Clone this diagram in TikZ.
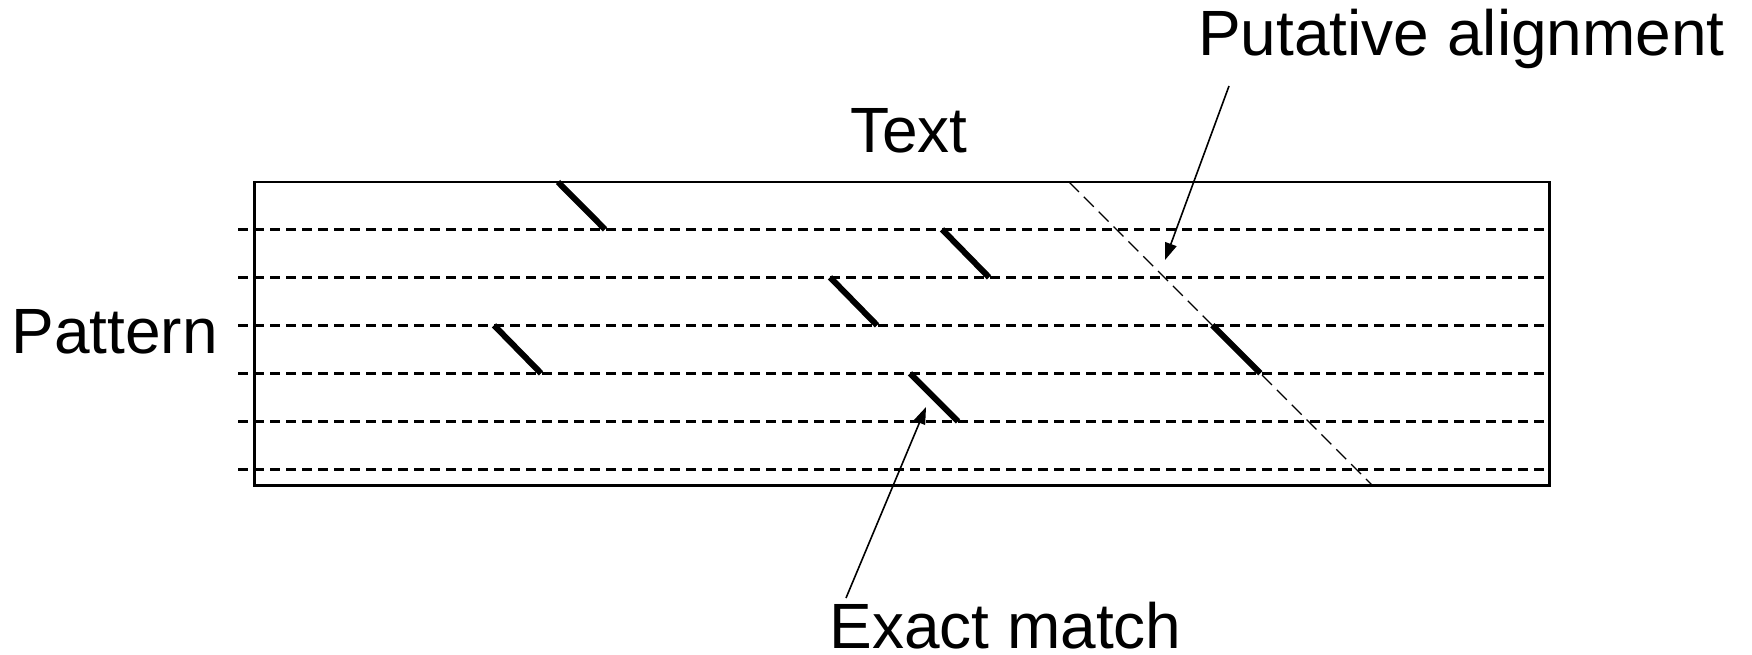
\documentclass[tikz,border=0pt]{standalone}
\usepackage{fontspec}
\setmainfont{Liberation Sans}
\usetikzlibrary{arrows.meta}
\begin{document}
\begin{tikzpicture}[x=1pt,y=-1pt,
  lbl/.style={font=\fontsize{64}{76}\selectfont, inner sep=0pt, anchor=base, text depth=0pt},
  rowline/.style={line width=2.6pt, dash pattern=on 9.5pt off 6.5pt},
  hit/.style={line width=6pt},
  diag/.style={line width=1.3pt, dash pattern=on 14pt off 7pt},
  pointer/.style={line width=1.6pt, -{Triangle[length=17pt,width=12pt]}},
  frame/.style={line width=2.2pt}]
\useasboundingbox (0,0) rectangle (1752,655);
% frame
\draw[frame] (254.5,182) rectangle (1549.5,485.5);
% pattern rows
\foreach \i/\y in {1/229.3,2/277.3,3/325.3,4/373.3,5/421.3,6/469.3}{
  \coordinate (r\i) at (238,\y);
  \draw[rowline] (r\i) -- (1549.5,\y);
}
% putative alignment diagonal
\coordinate (d0) at (1069,182);
\coordinate (d1) at (1372.5,485.5);
\draw[diag] (d0) -- (d1);
% exact matches
\coordinate (m1a) at (558,182);   \coordinate (m1b) at (605,229.3);
\coordinate (m2a) at (942,229.3); \coordinate (m2b) at (989,277.3);
\coordinate (m3a) at (830,277.3); \coordinate (m3b) at (877,325.3);
\coordinate (m4a) at (494,325.3); \coordinate (m4b) at (541,373.3);
\coordinate (m5a) at (910,373.3); \coordinate (m5b) at (958,421.3);
\coordinate (m6a) at (1212.3,325.3); \coordinate (m6b) at (1260.3,373.3);
\foreach \k in {1,...,6}{ \draw[hit] (m\k a) -- (m\k b); }
% labels
\node[lbl] (text) at (909,153) {Text};
\node[lbl] (pattern) at (114.5,353) {Pattern};
\node[lbl] (putative) at (1461.5,56) {Putative alignment};
\node[lbl] (exact) at (1005.5,648) {Exact match};
% pointers
\coordinate (ps) at (1229,86);
\coordinate (pt) at (1165,260);
\draw[pointer] (ps) -- (pt);
\coordinate (es) at (846,598);
\coordinate (et) at (926,407);
\draw[pointer] (es) -- (et);
\end{tikzpicture}
\end{document}
